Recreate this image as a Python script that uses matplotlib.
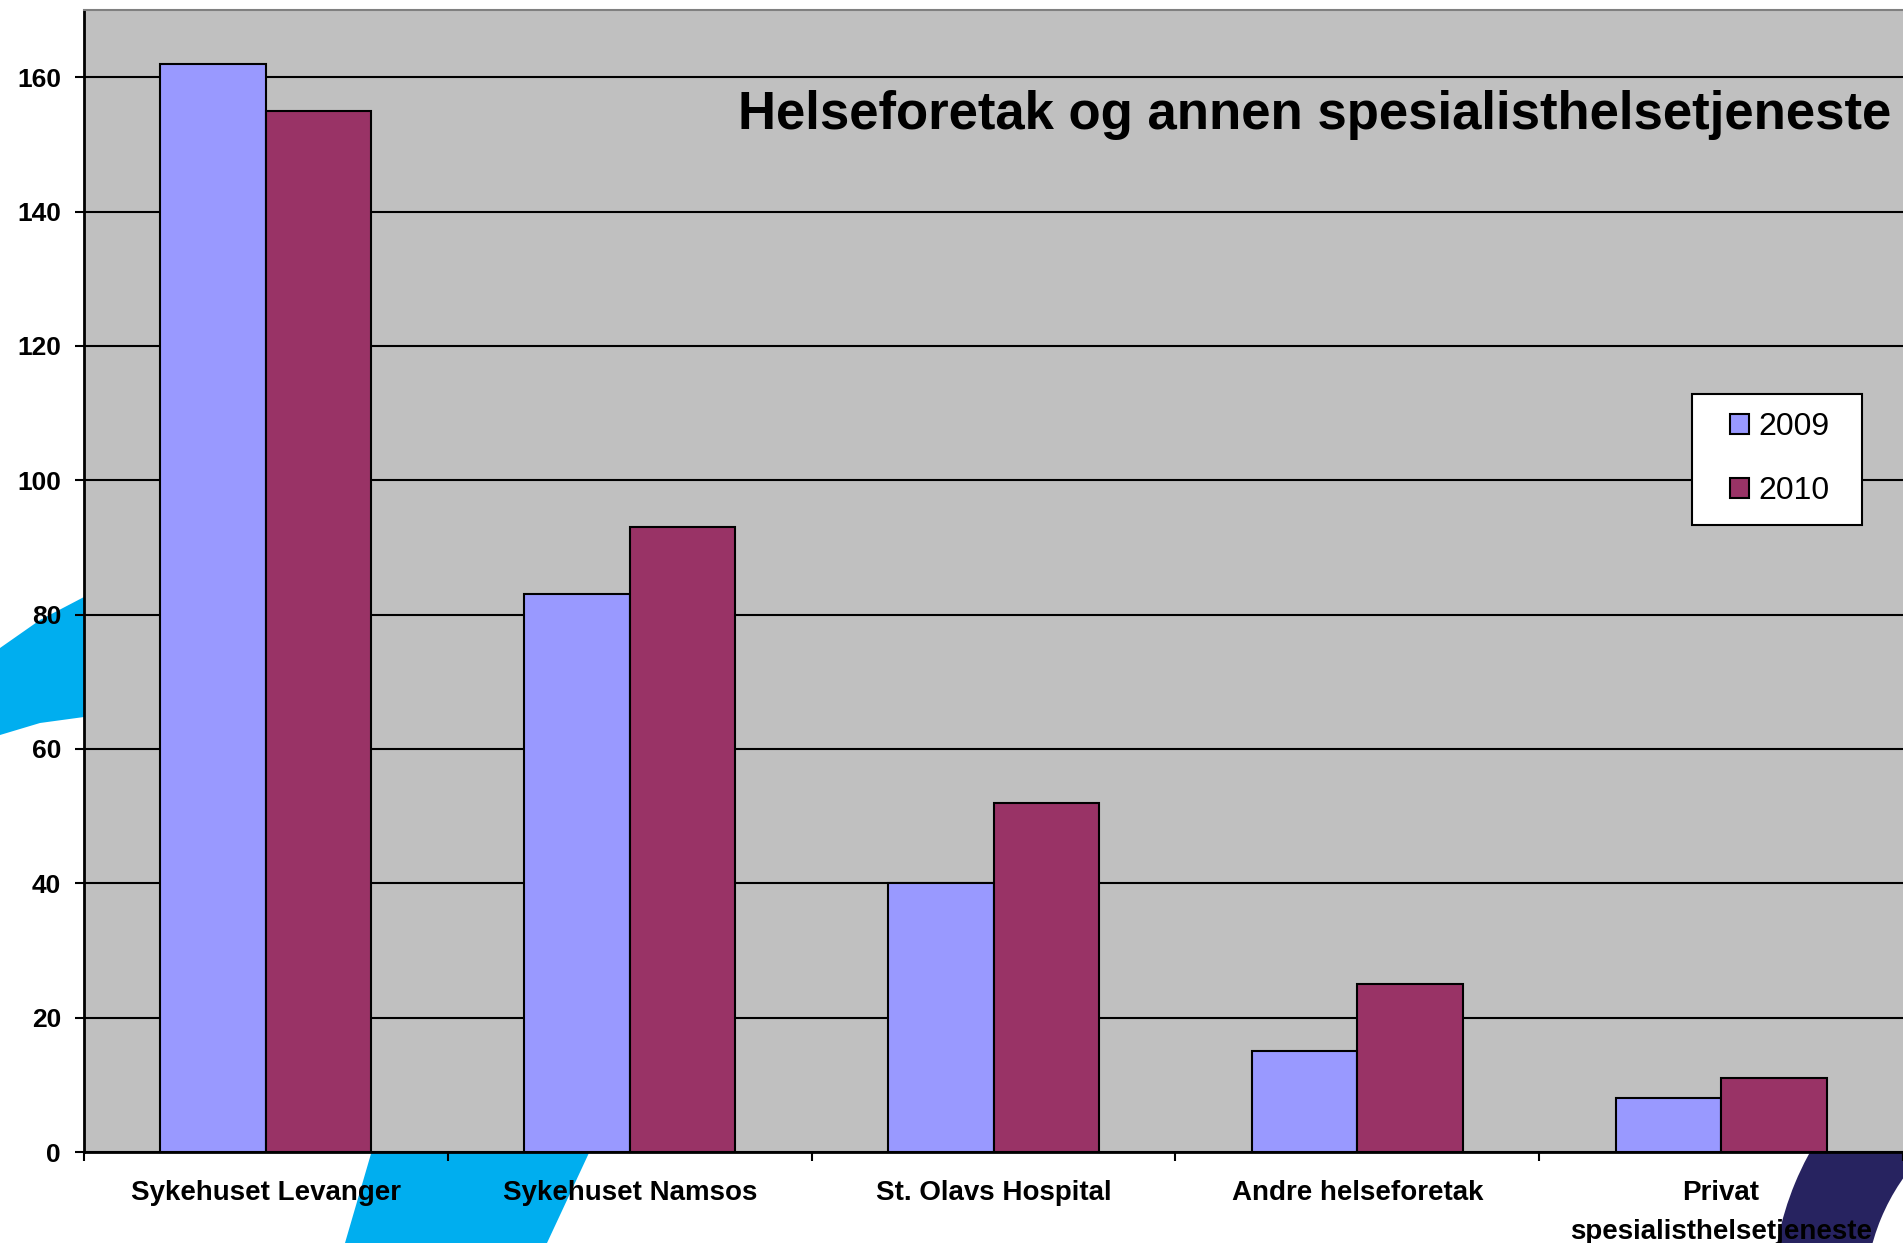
import numpy as np
import matplotlib
matplotlib.use("Agg")
import matplotlib.pyplot as plt
from matplotlib.patches import Polygon, Wedge, Rectangle
from matplotlib.transforms import Affine2D

plt.rcParams['font.family'] = ['Liberation Sans', 'DejaVu Sans']

# Data
categories = ["Sykehuset Levanger", "Sykehuset Namsos", "St. Olavs Hospital",
              "Andre helseforetak", "Privat\nspesialisthelsetjeneste"]
years = ["2009", "2010"]
values_2009 = [162, 83, 40, 15, 8]
values_2010 = [155, 93, 52, 25, 11]
y_ticks = [0, 20, 40, 60, 80, 100, 120, 140, 160]
title = "Helseforetak og annen spesialisthelsetjeneste"

W, H = 1903, 1243
fig = plt.figure(figsize=(W / 100, H / 100), dpi=100)
fig.patch.set_facecolor("white")

# background decoration of the slide, in pixel coords (y from top)
px = Affine2D().scale(1, -1).translate(0, H) + Affine2D().scale(1 / 100) + fig.dpi_scale_trans
blue = "#00AEEF"
fig.patches.append(Polygon([(0, 648), (40, 620), (84, 597), (84, 717), (40, 723), (0, 735)],
                           closed=True, facecolor=blue, edgecolor="none",
                           transform=px, zorder=-1))
fig.patches.append(Polygon([(375, 1140), (595, 1140), (547, 1243), (345, 1243)],
                           closed=True, facecolor=blue, edgecolor="none",
                           transform=px, zorder=-1))
fig.patches.append(Wedge((2075, 1299), 303, 0, 360, width=93, facecolor="#272360",
                         edgecolor="none", transform=px, zorder=-1))

ax = fig.add_axes([84 / W, 1 - 1152 / H, 1 - 84 / W, (1152 - 10) / H])
ax.set_facecolor("#C0C0C0")

x = np.arange(len(categories))
w = 0.29
ax.bar(x - w / 2, values_2009, w, color="#9999FF", edgecolor="black",
       linewidth=1.5, label=years[0], zorder=3)
ax.bar(x + w / 2, values_2010, w, color="#993366", edgecolor="black",
       linewidth=1.5, label=years[1], zorder=3)

ax.set_xlim(-0.5, len(categories) - 0.5)
ax.set_ylim(0, 170)
ax.set_yticks(y_ticks)
ax.set_yticklabels([str(t) for t in y_ticks], fontsize=19, fontweight="bold")
ax.yaxis.grid(True, color="black", linewidth=1.5, zorder=1)
ax.set_axisbelow(True)

# category boundaries as major ticks, names on minor ticks
ax.set_xticks(np.arange(-0.5, len(categories) - 0.4, 1))
ax.set_xticklabels([])
ax.set_xticks(x, minor=True)
ax.set_xticklabels(categories, minor=True, fontsize=20, fontweight="bold",
                   linespacing=1.65, va="top")
ax.tick_params(axis="x", which="minor", length=0, pad=20)
ax.tick_params(axis="both", which="major", direction="out", length=6.5,
               width=1.5, color="black")
ax.tick_params(axis="y", pad=10)

for s in ["left", "bottom"]:
    ax.spines[s].set_color("black")
    ax.spines[s].set_linewidth(2)
ax.spines["top"].set_color("#808080")
ax.spines["top"].set_linewidth(1.5)
ax.spines["right"].set_visible(False)

ax.text(0.9935, 0.908, title, transform=ax.transAxes, ha="right", va="center",
        fontsize=38, fontweight="bold", zorder=5)

# legend box drawn separately so the padding matches the original
ax.add_patch(Rectangle((1692, 525), 170, -131, facecolor="white", edgecolor="black",
                       linewidth=1.5, transform=px, clip_on=False, zorder=5))
leg = ax.legend(loc="center left", bbox_to_anchor=(1730 / W, 1 - 459 / H),
                bbox_transform=fig.transFigure, fontsize=23, frameon=False,
                handlelength=0.6, handleheight=0.6, handletextpad=0.3,
                labelspacing=1.06, borderpad=0, borderaxespad=0)
leg.set_zorder(6)

plt.savefig("out.png", dpi=100)
